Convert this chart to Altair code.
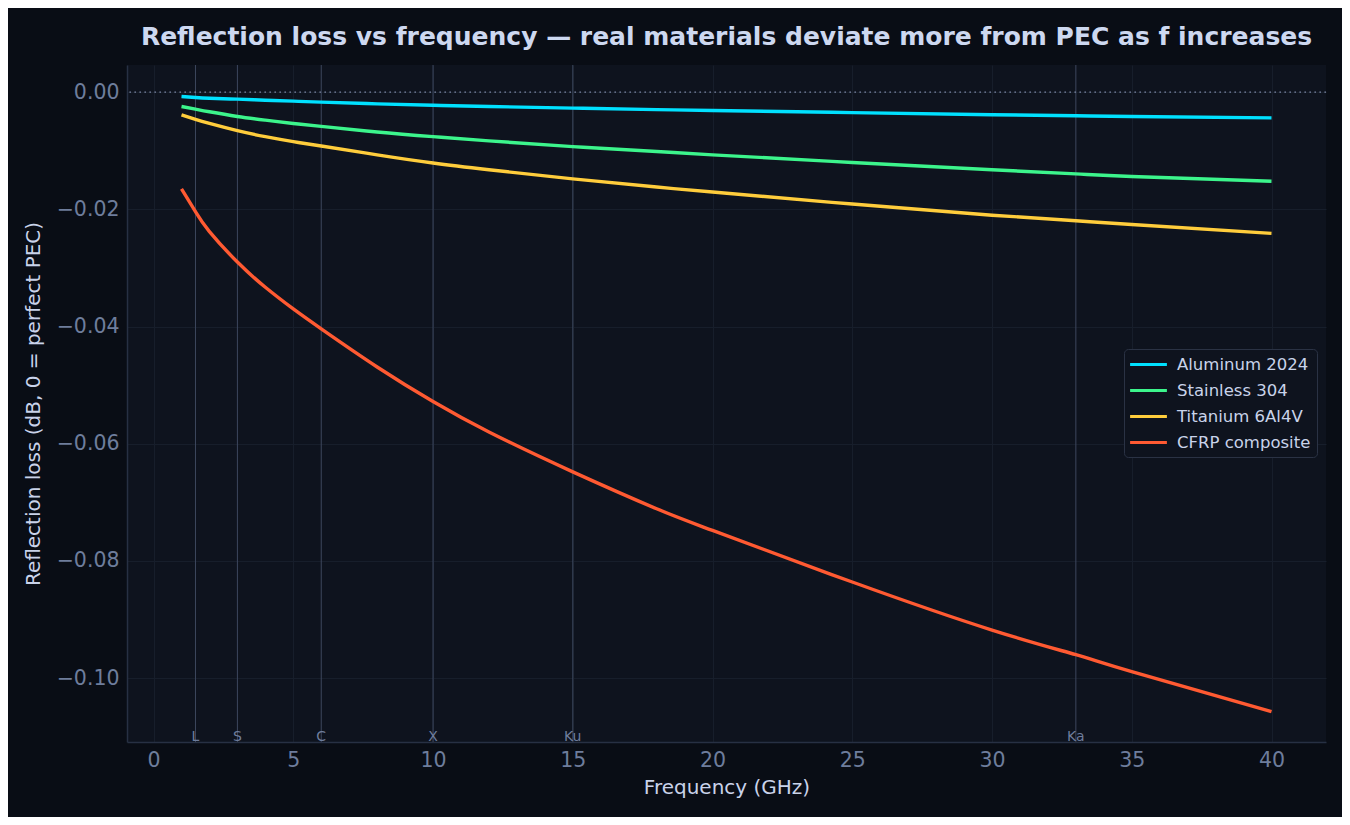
import altair as alt
import pandas as pd

# ---- data ----
freq = [1, 1.5, 2, 3, 4, 5, 6, 8, 10, 12, 15, 18, 20, 25, 30, 33, 35, 40]
aluminum = [-0.00074, -0.00091, -0.00104, -0.00120, -0.00138, -0.00154, -0.00170, -0.00200,
            -0.00225, -0.00245, -0.00273, -0.00298, -0.00313, -0.00349, -0.00385, -0.00404,
            -0.00416, -0.00440]
stainless = [-0.00245, -0.00290, -0.00335, -0.00415, -0.00478, -0.00535, -0.00585, -0.00680,
             -0.00760, -0.00832, -0.00930, -0.01012, -0.01070, -0.01200, -0.01325, -0.01395,
             -0.01440, -0.01520]
titanium = [-0.00387, -0.00465, -0.00535, -0.00658, -0.00760, -0.00845, -0.00920, -0.01070,
            -0.01210, -0.01325, -0.01480, -0.01620, -0.01705, -0.01910, -0.02100, -0.02195,
            -0.02260, -0.02410]
cfrp = [-0.0165, -0.0204, -0.0238, -0.0290, -0.0333, -0.0370, -0.0404, -0.0469, -0.0528,
        -0.0580, -0.0648, -0.0711, -0.0748, -0.0836, -0.0918, -0.0960, -0.0989, -0.1057]

materials = ["Aluminum 2024", "Stainless 304", "Titanium 6Al4V", "CFRP composite"]
colors = ["#00e1ff", "#3cf58c", "#ffcd3c", "#ff5a32"]

band_freq = [1.5, 3, 6, 10, 15, 33]
band_name = ["L", "S", "C", "X", "Ku", "Ka"]

x_ticks = [0, 5, 10, 15, 20, 25, 30, 35, 40]
y_ticks = [0.0, -0.02, -0.04, -0.06, -0.08, -0.10]

# ---- tables ----
series = [aluminum, stainless, titanium, cfrp]
rows = []
for name, vals in zip(materials, series):
    for f, v in zip(freq, vals):
        rows.append({"f": f, "loss": v, "material": name})
df = pd.DataFrame(rows)
bands = pd.DataFrame({"f": band_freq, "band": band_name})
zero = pd.DataFrame({"loss": [0.0]})

W, H = 1199, 677
FONT = "DejaVu Sans"
LABEL_C = "#6e7d9c"
TITLE_C = "#c9d3ea"

xscale = alt.Scale(domain=[-0.95, 41.95], nice=False, zero=False)
yscale = alt.Scale(domain=[-0.1109, 0.00463], nice=False, zero=False)
xaxis = alt.Axis(values=x_ticks, format="d", grid=True)
yaxis = alt.Axis(values=y_ticks, format=".2f", grid=True)
XT = "Frequency (GHz)"
YT = "Reflection loss (dB, 0 = perfect PEC)"

band_rules = alt.Chart(bands).mark_rule(color="#3d475e", strokeWidth=1).encode(
    x=alt.X("f:Q", scale=xscale, axis=xaxis, title=XT)
)
band_text = alt.Chart(bands).mark_text(
    font=FONT, fontSize=14, color=LABEL_C, baseline="alphabetic", align="center"
).encode(
    x=alt.X("f:Q", scale=xscale, axis=xaxis, title=XT),
    y=alt.value(H - 1),
    text="band:N",
)
zero_rule = alt.Chart(zero).mark_rule(
    color="#7a86a3", strokeWidth=1.3, strokeDash=[1.6, 3.4]
).encode(y=alt.Y("loss:Q", scale=yscale, axis=yaxis, title=YT))

lines = alt.Chart(df).mark_line(strokeWidth=3.4, interpolate="natural").encode(
    x=alt.X("f:Q", scale=xscale, axis=xaxis, title=XT),
    y=alt.Y("loss:Q", scale=yscale, axis=yaxis, title=YT),
    color=alt.Color(
        "material:N",
        scale=alt.Scale(domain=materials, range=colors),
        sort=materials,
        legend=alt.Legend(
            title=None,
            orient="none",
            legendX=997,
            legendY=284,
            symbolType="M-2.3,0H2.3",
            symbolSize=256,
            symbolStrokeWidth=3,
            symbolOffset=9,
            labelOffset=19,
            labelFontSize=16.5,
            labelFont=FONT,
            labelColor="#c9d3ea",
            fillColor="#0e131e",
            strokeColor="#2a3244",
            padding=6,
            cornerRadius=4,
            rowPadding=8,
        ),
    ),
)

chart = (
    alt.layer(band_rules, band_text, zero_rule, lines)
    .properties(
        width=W,
        height=H,
        autosize=alt.AutoSizeParams(type="none"),
        padding={"left": 119, "top": 57, "right": 16, "bottom": 75},
        background="#090d15",
        title=alt.TitleParams(
            "Reflection loss vs frequency — real materials deviate more from PEC as f increases",
            font=FONT,
            fontSize=25,
            fontWeight="bold",
            color="#cdd8f0",
            anchor="middle",
            offset=15,
        ),
    )
    .configure_view(fill="#0e131e", stroke=None)
    .configure_axis(
        labelFont=FONT,
        titleFont=FONT,
        labelFontSize=20.5,
        titleFontSize=20,
        labelColor=LABEL_C,
        titleColor=TITLE_C,
        titleFontWeight="normal",
        gridColor="#171e2b",
        gridWidth=1,
        domainColor="#273043",
        domainWidth=1.5,
        ticks=False,
        labelPadding=8,
    )
    .configure_axisX(titlePadding=7)
    .configure_axisY(titlePadding=13)
)

chart.save("out.html", embed_options={"renderer": "svg", "actions": False})
